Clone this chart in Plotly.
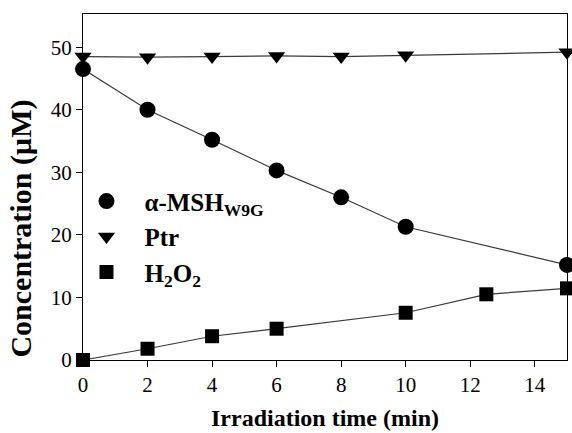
import plotly.graph_objects as go

# Irradiation time points (min) and measured concentrations (µM)
t_msh = [0, 2, 4, 6, 8, 10, 15]
msh = [46.5, 40.0, 35.2, 30.3, 26.0, 21.3, 15.2]

t_ptr = [0, 2, 4, 6, 8, 10, 15]
ptr = [48.5, 48.4, 48.5, 48.6, 48.5, 48.7, 49.2]

t_h2o2 = [0, 2, 4, 6, 10, 12.5, 15]
h2o2 = [0.0, 1.8, 3.8, 5.0, 7.55, 10.5, 11.45]

series_names = ["<b>α-MSH<sub>W9G</sub></b>", "<b>Ptr</b>", "<b>H<sub>2</sub>O<sub>2</sub></b>"]
x_ticks = [0, 2, 4, 6, 8, 10, 12, 14]
y_ticks = [0, 10, 20, 30, 40, 50]

FONT = "Liberation Serif"
LINE = dict(color="#3a3a3a", width=1.2)
symbols = ["circle", "triangle-down", "square"]
sizes = [16, 15, 14]

fig = go.Figure()
for (tx, vals), name, sym, sz in zip(
        [(t_msh, msh), (t_ptr, ptr), (t_h2o2, h2o2)], series_names, symbols, sizes):
    # connected data series (kept out of the legend)
    fig.add_trace(go.Scatter(
        x=tx, y=vals, mode="lines+markers", showlegend=False,
        line=LINE, marker=dict(symbol=sym, size=sz, color="black"), cliponaxis=False))
    # marker-only legend entry
    fig.add_trace(go.Scatter(
        x=[None], y=[None], mode="markers", name=name, legendgroup=name,
        marker=dict(symbol=sym, size=sz, color="black")))

fig.update_layout(
    width=572, height=433,
    margin=dict(l=83, r=5, t=14, b=73),
    paper_bgcolor="white", plot_bgcolor="white",
    font=dict(family=FONT, size=20, color="black"),
    showlegend=True,
    legend=dict(x=-0.03, y=0.525, xanchor="left", yanchor="top",
                bgcolor="rgba(0,0,0,0)", font=dict(size=25, family=FONT),
                tracegroupgap=0, itemwidth=66),
    xaxis=dict(range=[0, 15], tickvals=x_ticks, ticks="outside", ticklen=6,
               tickwidth=1, tickcolor="black", showline=True, linecolor="black",
               linewidth=1, mirror=True, showgrid=False, zeroline=False,
               title=dict(text="<b>Irradiation time (min)</b>", font=dict(size=24), standoff=12),
               tickfont=dict(size=21)),
    yaxis=dict(range=[0, 55.3], tickvals=y_ticks, ticks="outside", ticklen=6,
               tickwidth=1, tickcolor="black", showline=True, linecolor="black",
               linewidth=1, mirror=True, showgrid=False, zeroline=False,
               tickfont=dict(size=21)),
    annotations=[dict(
        text="<b>Concentration (µM)</b>", textangle=-90,
        xref="paper", yref="paper", x=-0.13, y=0.38,
        xanchor="center", yanchor="middle", showarrow=False,
        font=dict(size=30, family=FONT))],
)

fig.write_html("out.html")
